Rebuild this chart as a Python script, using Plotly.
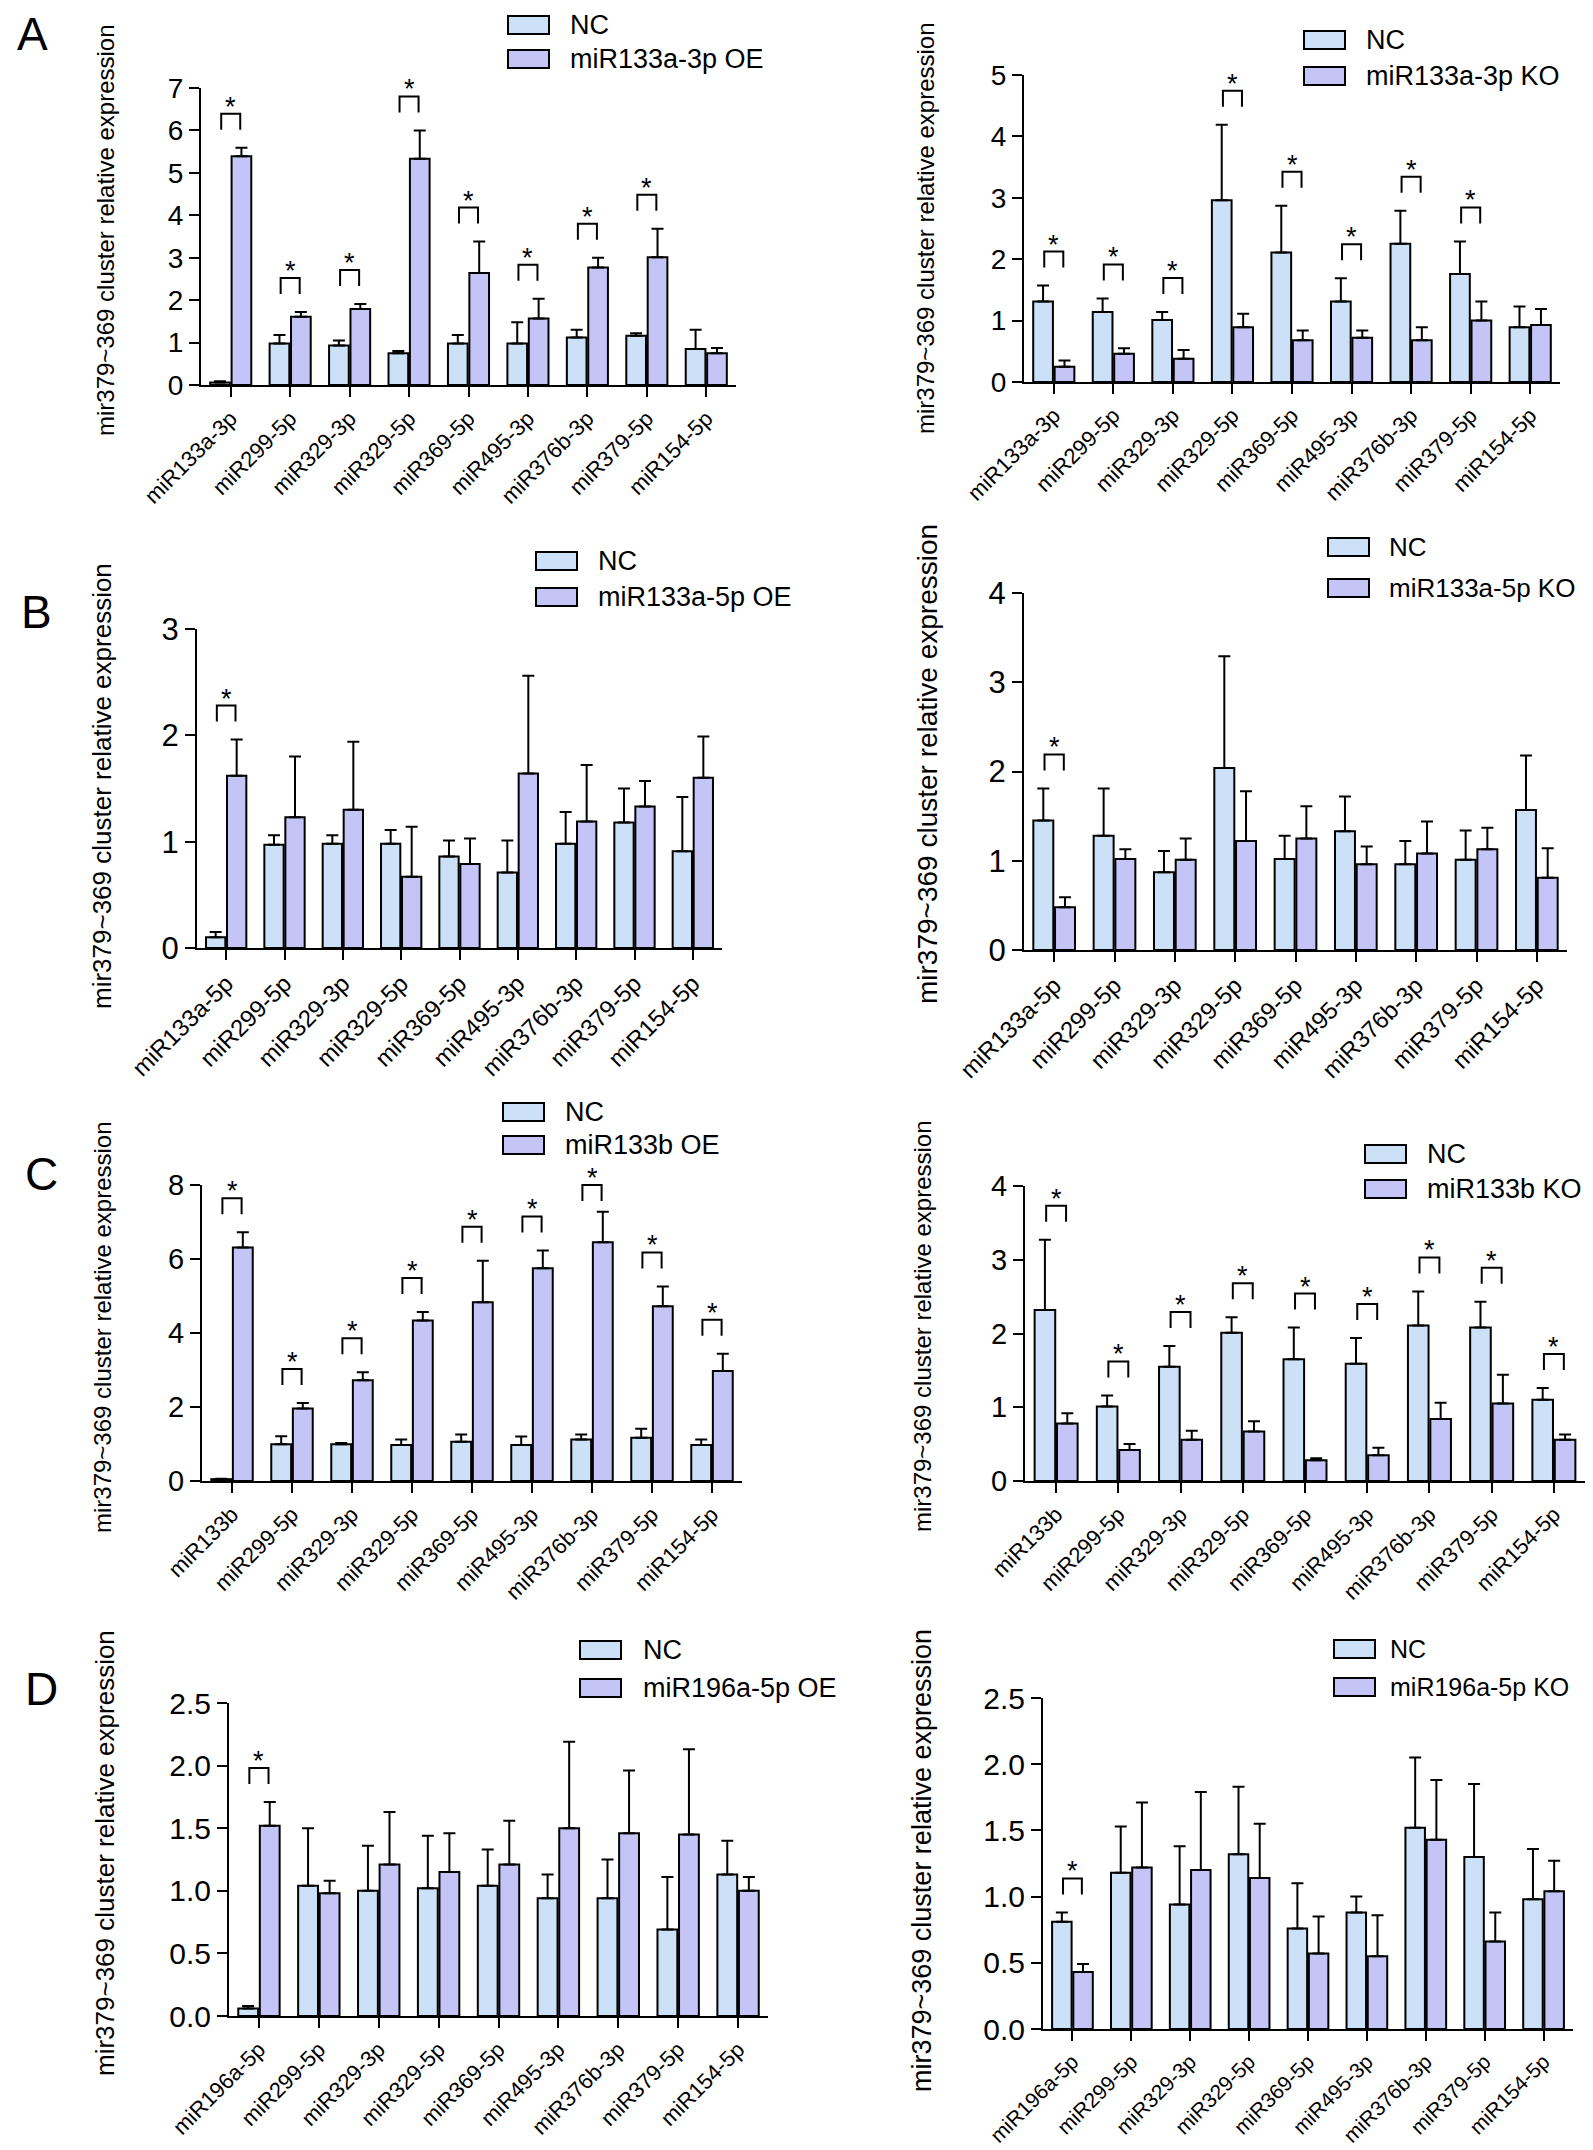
import plotly.graph_objects as go

W, H = 1593, 2150
FONT = "Liberation Sans, Arial, sans-serif"
NC_COLOR = "#CCE0F7"
TR_COLOR = "#C4C4F7"

COMMON = ["miR299-5p", "miR329-3p", "miR329-5p", "miR369-5p", "miR495-3p",
          "miR376b-3p", "miR379-5p", "miR154-5p"]
A_CATS = ["miR133a-3p"] + COMMON
B_CATS = ["miR133a-5p"] + COMMON
C_CATS = ["miR133b"] + COMMON
D_CATS = ["miR196a-5p"] + COMMON

# ---- Panel A : miR133a-3p ----
A_OE_NC = [0.06, 0.98, 0.93, 0.75, 0.98, 0.98, 1.12, 1.16, 0.85]
A_OE_NC_ERR = [0.03, 0.20, 0.12, 0.05, 0.20, 0.50, 0.18, 0.06, 0.45]
A_OE = [5.39, 1.61, 1.79, 5.33, 2.64, 1.57, 2.77, 3.01, 0.75]
A_OE_ERR = [0.20, 0.11, 0.12, 0.67, 0.74, 0.46, 0.23, 0.67, 0.12]
A_OE_SIG = [1, 1, 1, 1, 1, 1, 1, 1, 0]

A_KO_NC = [1.31, 1.14, 1.01, 2.96, 2.11, 1.31, 2.25, 1.76, 0.89]
A_KO_NC_ERR = [0.26, 0.22, 0.13, 1.23, 0.76, 0.38, 0.54, 0.53, 0.34]
A_KO = [0.25, 0.46, 0.38, 0.89, 0.68, 0.72, 0.68, 1.00, 0.93]
A_KO_ERR = [0.10, 0.09, 0.14, 0.22, 0.16, 0.12, 0.21, 0.31, 0.26]
A_KO_SIG = [1, 1, 1, 1, 1, 1, 1, 1, 0]

# ---- Panel B : miR133a-5p ----
B_OE_NC = [0.10, 0.97, 0.98, 0.98, 0.86, 0.71, 0.98, 1.18, 0.91]
B_OE_NC_ERR = [0.05, 0.09, 0.08, 0.13, 0.15, 0.30, 0.30, 0.32, 0.51]
B_OE = [1.62, 1.23, 1.30, 0.67, 0.79, 1.64, 1.19, 1.33, 1.60]
B_OE_ERR = [0.34, 0.57, 0.64, 0.47, 0.24, 0.92, 0.53, 0.24, 0.39]
B_OE_SIG = [1, 0, 0, 0, 0, 0, 0, 0, 0]

B_KO_NC = [1.45, 1.28, 0.87, 2.04, 1.02, 1.33, 0.96, 1.01, 1.57]
B_KO_NC_ERR = [0.36, 0.53, 0.24, 1.25, 0.26, 0.39, 0.26, 0.33, 0.61]
B_KO = [0.48, 1.02, 1.01, 1.22, 1.25, 0.96, 1.08, 1.13, 0.81]
B_KO_ERR = [0.11, 0.11, 0.24, 0.56, 0.36, 0.20, 0.36, 0.24, 0.33]
B_KO_SIG = [1, 0, 0, 0, 0, 0, 0, 0, 0]

# ---- Panel C : miR133b ----
C_OE_NC = [0.05, 0.99, 0.99, 0.97, 1.06, 0.97, 1.12, 1.17, 0.97]
C_OE_NC_ERR = [0.01, 0.22, 0.04, 0.15, 0.20, 0.23, 0.14, 0.24, 0.15]
C_OE = [6.31, 1.96, 2.72, 4.34, 4.83, 5.75, 6.45, 4.72, 2.97]
C_OE_ERR = [0.41, 0.15, 0.22, 0.23, 1.12, 0.48, 0.83, 0.54, 0.47]
C_OE_SIG = [1, 1, 1, 1, 1, 1, 1, 1, 1]

C_KO_NC = [2.32, 1.01, 1.55, 2.01, 1.65, 1.59, 2.11, 2.08, 1.10]
C_KO_NC_ERR = [0.95, 0.15, 0.28, 0.21, 0.43, 0.35, 0.46, 0.35, 0.16]
C_KO = [0.78, 0.42, 0.56, 0.67, 0.28, 0.35, 0.84, 1.05, 0.56]
C_KO_ERR = [0.14, 0.08, 0.12, 0.14, 0.03, 0.10, 0.22, 0.39, 0.07]
C_KO_SIG = [1, 1, 1, 1, 1, 1, 1, 1, 1]

# ---- Panel D : miR196a-5p ----
D_OE_NC = [0.06, 1.04, 1.00, 1.02, 1.04, 0.94, 0.94, 0.69, 1.13]
D_OE_NC_ERR = [0.02, 0.46, 0.36, 0.42, 0.29, 0.19, 0.31, 0.42, 0.27]
D_OE = [1.52, 0.98, 1.21, 1.15, 1.21, 1.50, 1.46, 1.45, 1.00]
D_OE_ERR = [0.19, 0.10, 0.42, 0.31, 0.35, 0.69, 0.50, 0.68, 0.11]
D_OE_SIG = [1, 0, 0, 0, 0, 0, 0, 0, 0]

D_KO_NC = [0.81, 1.18, 0.94, 1.32, 0.76, 0.88, 1.52, 1.30, 0.98]
D_KO_NC_ERR = [0.07, 0.35, 0.44, 0.51, 0.34, 0.12, 0.53, 0.55, 0.38]
D_KO = [0.43, 1.22, 1.20, 1.14, 0.57, 0.55, 1.43, 0.66, 1.04]
D_KO_ERR = [0.06, 0.49, 0.59, 0.41, 0.28, 0.31, 0.45, 0.22, 0.23]
D_KO_SIG = [1, 0, 0, 0, 0, 0, 0, 0, 0]

Y_TITLE = "mir379~369 cluster relative expression"

# layout of each panel (pixel positions in the page)
PANELS = [
    dict(cats=A_CATS, nc=A_OE_NC, nce=A_OE_NC_ERR, tr=A_OE, tre=A_OE_ERR, sig=A_OE_SIG,
         name="miR133a-3p OE", ymax=7, dtick=1, fmt="d",
         box=(193, 728, 80, 377), leg=(500, 8, 42, 560, 27), title=(97, 222, 24),
         tick_fs=28, lab_fs=22, letter=("A", 24, 26)),
    dict(cats=A_CATS, nc=A_KO_NC, nce=A_KO_NC_ERR, tr=A_KO, tre=A_KO_ERR, sig=A_KO_SIG,
         name="miR133a-3p KO", ymax=5, dtick=1, fmt="d",
         box=(1016, 1552, 67, 374), leg=(1296, 23, 59, 1356, 27), title=(917, 220, 24),
         tick_fs=28, lab_fs=22, letter=None),
    dict(cats=B_CATS, nc=B_OE_NC, nce=B_OE_NC_ERR, tr=B_OE, tre=B_OE_ERR, sig=B_OE_SIG,
         name="miR133a-5p OE", ymax=3, dtick=1, fmt="d",
         box=(189, 714, 621, 940), leg=(528, 544, 580, 588, 27), title=(94, 778, 26),
         tick_fs=31, lab_fs=24, letter=("B", 28, 604)),
    dict(cats=B_CATS, nc=B_KO_NC, nce=B_KO_NC_ERR, tr=B_KO, tre=B_KO_ERR, sig=B_KO_SIG,
         name="miR133a-5p KO", ymax=4, dtick=1, fmt="d",
         box=(1016, 1559, 585, 942), leg=(1320, 530, 571, 1379, 26), title=(919, 756, 28),
         tick_fs=31, lab_fs=24, letter=None),
    dict(cats=C_CATS, nc=C_OE_NC, nce=C_OE_NC_ERR, tr=C_OE, tre=C_OE_ERR, sig=C_OE_SIG,
         name="miR133b OE", ymax=8, dtick=2, fmt="d",
         box=(194, 734, 1177, 1473), leg=(495, 1095, 1128, 555, 27), title=(94, 1319, 24),
         tick_fs=29, lab_fs=22, letter=("C", 33, 1166)),
    dict(cats=C_CATS, nc=C_KO_NC, nce=C_KO_NC_ERR, tr=C_KO, tre=C_KO_ERR, sig=C_KO_SIG,
         name="miR133b KO", ymax=4, dtick=1, fmt="d",
         box=(1017, 1577, 1178, 1473), leg=(1357, 1137, 1172, 1417, 27), title=(914, 1318, 24),
         tick_fs=29, lab_fs=22, letter=None),
    dict(cats=D_CATS, nc=D_OE_NC, nce=D_OE_NC_ERR, tr=D_OE, tre=D_OE_ERR, sig=D_OE_SIG,
         name="miR196a-5p OE", ymax=2.5, dtick=0.5, fmt=".1f",
         box=(221, 760, 1695, 2008), leg=(572, 1633, 1671, 633, 27), title=(97, 1845, 26),
         tick_fs=30, lab_fs=22, letter=("D", 33, 1681)),
    dict(cats=D_CATS, nc=D_KO_NC, nce=D_KO_NC_ERR, tr=D_KO, tre=D_KO_ERR, sig=D_KO_SIG,
         name="miR196a-5p KO", ymax=2.5, dtick=0.5, fmt=".1f",
         box=(1035, 1565, 1690, 2021), leg=(1326, 1632, 1670, 1380, 25), title=(914, 1853, 27),
         tick_fs=30, lab_fs=21, letter=None),
]

fig = go.Figure()
shapes = []
annotations = []
layout_axes = {}


def px_x(p):
    return p / W


def px_y(p):
    return 1 - p / H


for k, P in enumerate(PANELS, start=1):
    sfx = "" if k == 1 else str(k)
    xid, yid = "x" + sfx, "y" + sfx
    n = len(P["cats"])
    xs = list(range(n))
    x0, x1, yt, yb = P["box"]

    for vals, errs, color, nm in ((P["nc"], P["nce"], NC_COLOR, "NC"),
                                  (P["tr"], P["tre"], TR_COLOR, P["name"])):
        fig.add_trace(go.Bar(
            x=xs, y=vals, name=nm, showlegend=False,
            xaxis=xid, yaxis=yid,
            marker=dict(color=color, line=dict(color="black", width=2)),
            error_y=dict(type="data", array=errs, arrayminus=[0] * n, symmetric=False,
                         color="black", thickness=2, width=6),
        ))

    layout_axes["xaxis" + sfx] = dict(
        domain=[px_x(x0), px_x(x1)], anchor=yid, range=[-0.5, n - 0.5], automargin=False,
        tickmode="array", tickvals=xs, ticktext=P["cats"], tickangle=-45,
        ticks="outside", ticklen=10, tickwidth=2, tickcolor="black",
        showline=True, linewidth=2, linecolor="black", showgrid=False, zeroline=False,
        tickfont=dict(family=FONT, size=P["lab_fs"], color="black"), fixedrange=True,
    )
    layout_axes["yaxis" + sfx] = dict(
        domain=[px_y(yb), px_y(yt)], anchor=xid, range=[0, P["ymax"]], automargin=False,
        tick0=0, dtick=P["dtick"], tickformat=P["fmt"],
        ticks="outside", ticklen=10, tickwidth=2, tickcolor="black",
        showline=True, linewidth=2, linecolor="black", showgrid=False, zeroline=False,
        tickfont=dict(family=FONT, size=P["tick_fs"], color="black"), fixedrange=True,
    )

    # data -> page conversions for this panel (so brackets are never clipped)
    def to_px_y(v, yt=yt, yb=yb, ymax=P["ymax"]):
        return yb - v / ymax * (yb - yt)

    def to_px_x(i, x0=x0, x1=x1, n=n):
        return x0 + (i + 0.5) / n * (x1 - x0)

    # significance brackets, placed from the data (kept no higher than the axis top)
    for i in xs:
        if not P["sig"][i]:
            continue
        top = max(P["nc"][i] + P["nce"][i], P["tr"][i] + P["tre"][i])
        peak_px = max(to_px_y(top) - 34, yt)
        base_px = peak_px + 16
        a_px = to_px_x(i - 0.16)
        b_px = to_px_x(i + 0.16)
        shapes.append(dict(type="path", xref="paper", yref="paper",
                           path=(f"M {px_x(a_px)},{px_y(base_px)} L {px_x(a_px)},{px_y(peak_px)} "
                                 f"L {px_x(b_px)},{px_y(peak_px)} L {px_x(b_px)},{px_y(base_px)}"),
                           line=dict(color="black", width=2)))
        annotations.append(dict(x=px_x(to_px_x(i)), y=px_y(peak_px), xref="paper", yref="paper",
                                text="*", showarrow=False,
                                yanchor="bottom", xanchor="center", yshift=-10,
                                font=dict(family=FONT, size=27, color="black")))

    # legend (drawn boxes + text)
    lx, ly1, ly2, tx, lfs = P["leg"]
    for ly, color, txt in ((ly1, NC_COLOR, "NC"), (ly2, TR_COLOR, P["name"])):
        shapes.append(dict(type="rect", xref="paper", yref="paper",
                           x0=px_x(lx), x1=px_x(lx + 41), y0=px_y(ly + 18), y1=px_y(ly),
                           fillcolor=color, line=dict(color="black", width=2)))
        annotations.append(dict(x=px_x(tx), y=px_y(ly + 9), xref="paper", yref="paper",
                                text=txt, showarrow=False, xanchor="left", yanchor="middle",
                                font=dict(family=FONT, size=lfs, color="black")))

    # y-axis title
    ttx, tty, tfs = P["title"]
    annotations.append(dict(x=px_x(ttx), y=px_y(tty), xref="paper", yref="paper",
                            text=Y_TITLE, textangle=-90, showarrow=False,
                            xanchor="center", yanchor="middle",
                            font=dict(family=FONT, size=tfs, color="black")))

    if P["letter"]:
        L, lxp, lyp = P["letter"]
        annotations.append(dict(x=px_x(lxp), y=px_y(lyp), xref="paper", yref="paper",
                                text=L, showarrow=False, xanchor="center", yanchor="middle",
                                font=dict(family=FONT, size=46, color="black")))

fig.update_layout(
    width=W, height=H, autosize=False,
    margin=dict(l=0, r=0, t=0, b=0, pad=0),
    paper_bgcolor="white", plot_bgcolor="white",
    barmode="group", bargap=0.28, bargroupgap=0.08,
    showlegend=False,
    shapes=shapes, annotations=annotations,
    font=dict(family=FONT, color="black"),
    **layout_axes,
)

fig.write_html("out.html", include_plotlyjs=True, config={"displayModeBar": False})
